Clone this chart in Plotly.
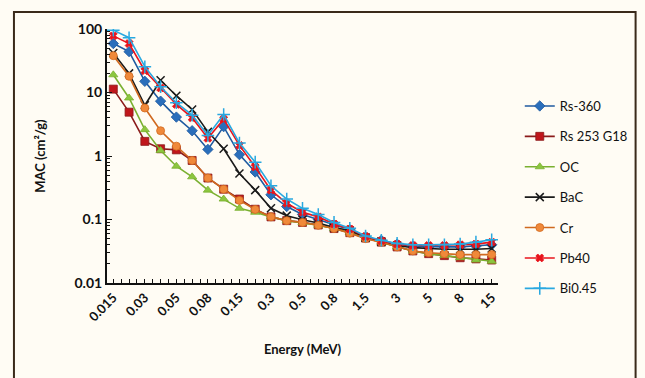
import plotly.graph_objects as go

energies = ["0.015", "0.02", "0.03", "0.04", "0.05", "0.06", "0.08", "0.1", "0.15", "0.2",
            "0.3", "0.4", "0.5", "0.6", "0.8", "1", "1.5", "2", "3", "4", "5", "6", "8", "10", "15"]

rs360 = [59, 44, 15, 7.3, 4.1, 2.5, 1.27, 2.9, 1.05, 0.56, 0.245, 0.16, 0.12, 0.10, 0.081,
         0.069, 0.053, 0.047, 0.041, 0.038, 0.037, 0.037, 0.037, 0.038, 0.040]
rs253 = [11.3, 4.9, 1.7, 1.3, 1.25, 0.85, 0.45, 0.30, 0.21, 0.145, 0.11, 0.096, 0.09, 0.082,
         0.072, 0.062, 0.051, 0.044, 0.037, 0.032, 0.029, 0.027, 0.025, 0.024, 0.023]
oc = [19, 8.2, 2.6, 1.22, 0.69, 0.47, 0.29, 0.21, 0.15, 0.13, 0.11, 0.096, 0.089, 0.081,
      0.072, 0.062, 0.051, 0.044, 0.037, 0.032, 0.029, 0.027, 0.025, 0.023, 0.022]
bac = [42, 20, 6.3, 15.6, 8.9, 5.4, 2.4, 1.3, 0.53, 0.29, 0.15, 0.115, 0.099, 0.088, 0.075,
       0.067, 0.052, 0.045, 0.039, 0.036, 0.035, 0.034, 0.034, 0.034, 0.035]
cr = [38, 18, 5.7, 2.5, 1.43, 0.85, 0.45, 0.30, 0.20, 0.144, 0.11, 0.096, 0.09, 0.081,
      0.072, 0.061, 0.050, 0.044, 0.037, 0.032, 0.030, 0.029, 0.028, 0.028, 0.028]
pb40 = [78, 59, 22, 11.8, 6.5, 4.0, 1.9, 3.8, 1.47, 0.67, 0.29, 0.18, 0.13, 0.11, 0.085,
        0.071, 0.054, 0.046, 0.041, 0.039, 0.039, 0.039, 0.040, 0.041, 0.044]
bi045 = [96, 73, 25.5, 12.3, 6.9, 4.4, 2.1, 4.5, 1.6, 0.8, 0.34, 0.21, 0.15, 0.12, 0.09,
         0.073, 0.055, 0.047, 0.042, 0.040, 0.040, 0.040, 0.041, 0.044, 0.048]

series = [
    ("Rs-360", rs360, "#1f5aa0", "#2a6ebb", "diamond", 8),
    ("Rs 253 G18", rs253, "#8b1a1a", "#c0161b", "square", 8),
    ("OC", oc, "#7ab030", "#8cc63f", "triangle-up", 8),
    ("BaC", bac, "#1a1a1a", "#1a1a1a", "x-thin", 8),
    ("Cr", cr, "#d0691f", "#f0893a", "circle", 8),
    ("Pb40", pb40, "#e8141c", "#e8141c", "x", 7),
    ("Bi0.45", bi045, "#29a8e0", "#29a8e0", "cross-thin", 9),
]

xidx = list(range(len(energies)))

fig = go.Figure()
for name, vals, lcol, mcol, sym, size in series:
    marker = dict(symbol=sym, size=size, color=mcol)
    if sym.endswith("-thin"):
        marker["line"] = dict(color=mcol, width=1.5)
    else:
        marker["line"] = dict(color=lcol, width=0.8)
    fig.add_trace(go.Scatter(
        x=xidx, y=vals, name=name, mode="lines+markers",
        line=dict(color=lcol, width=1.6), marker=marker, legendgroup=name,
    ))

tickvals = []
ticktext = []
for i, e in enumerate(energies):
    tickvals.append(i)
    ticktext.append(e if i % 2 == 0 else "")
    if i < len(energies) - 1:
        tickvals.append(i + 0.5)
        ticktext.append("")

W, H = 645, 378
L, R, T, B = 107, 143, 29, 95
pw, ph = W - L - R, H - T - B

def px(x):
    return (x - L) / pw

def py(y):
    return (H - B - y) / ph

bg = "#fffcf4"
fig.update_layout(
    width=W, height=H,
    margin=dict(l=L, r=R, t=T, b=B),
    paper_bgcolor=bg, plot_bgcolor=bg,
    font=dict(family="Lato, 'Open Sans', sans-serif", color="#111111"),
    showlegend=True,
    legend=dict(
        x=px(524), y=py(91), xanchor="left", yanchor="top",
        font=dict(size=13, color="#111111"),
        tracegroupgap=10.5, bgcolor="rgba(0,0,0,0)", itemwidth=30,
    ),
    xaxis=dict(
        range=[-0.4, 24.4], tickmode="array", tickvals=tickvals, ticktext=ticktext,
        tickangle=-45, ticks="inside", ticklen=4, tickwidth=1.3, tickcolor="#111",
        showline=True, linecolor="#111", linewidth=2, showgrid=False, zeroline=False,
        tickfont=dict(size=13, family="Lato, sans-serif", color="#111", weight="bold"),
        title=dict(text="<b>Energy (MeV)</b>", font=dict(size=13), standoff=22),
    ),
    yaxis=dict(
        type="log", range=[-2, 2], tickmode="array",
        tickvals=[0.01, 0.1, 1, 10, 100], ticktext=["0.01", "0.1", "1", "10", "100"],
        ticks="inside", ticklen=5, tickwidth=1.3, tickcolor="#111",
        minor=dict(ticks="inside", ticklen=3, tickcolor="#111", tickwidth=1,
                   tickvals=[m * 10 ** k for k in range(-2, 2) for m in range(2, 10)]),
        showline=True, linecolor="#111", linewidth=2, showgrid=False, zeroline=False,
        tickfont=dict(size=14, family="Lato, sans-serif", color="#111", weight="bold"),
        title=dict(text="<b>MAC (cm²/g)</b>", font=dict(size=13), standoff=26),
    ),
    shapes=[dict(type="rect", xref="paper", yref="paper",
                 x0=px(13), x1=px(641), y0=py(385), y1=py(12),
                 line=dict(color="#3a2a1a", width=2), fillcolor="rgba(0,0,0,0)", layer="below")],
)

fig.write_html("out.html")
